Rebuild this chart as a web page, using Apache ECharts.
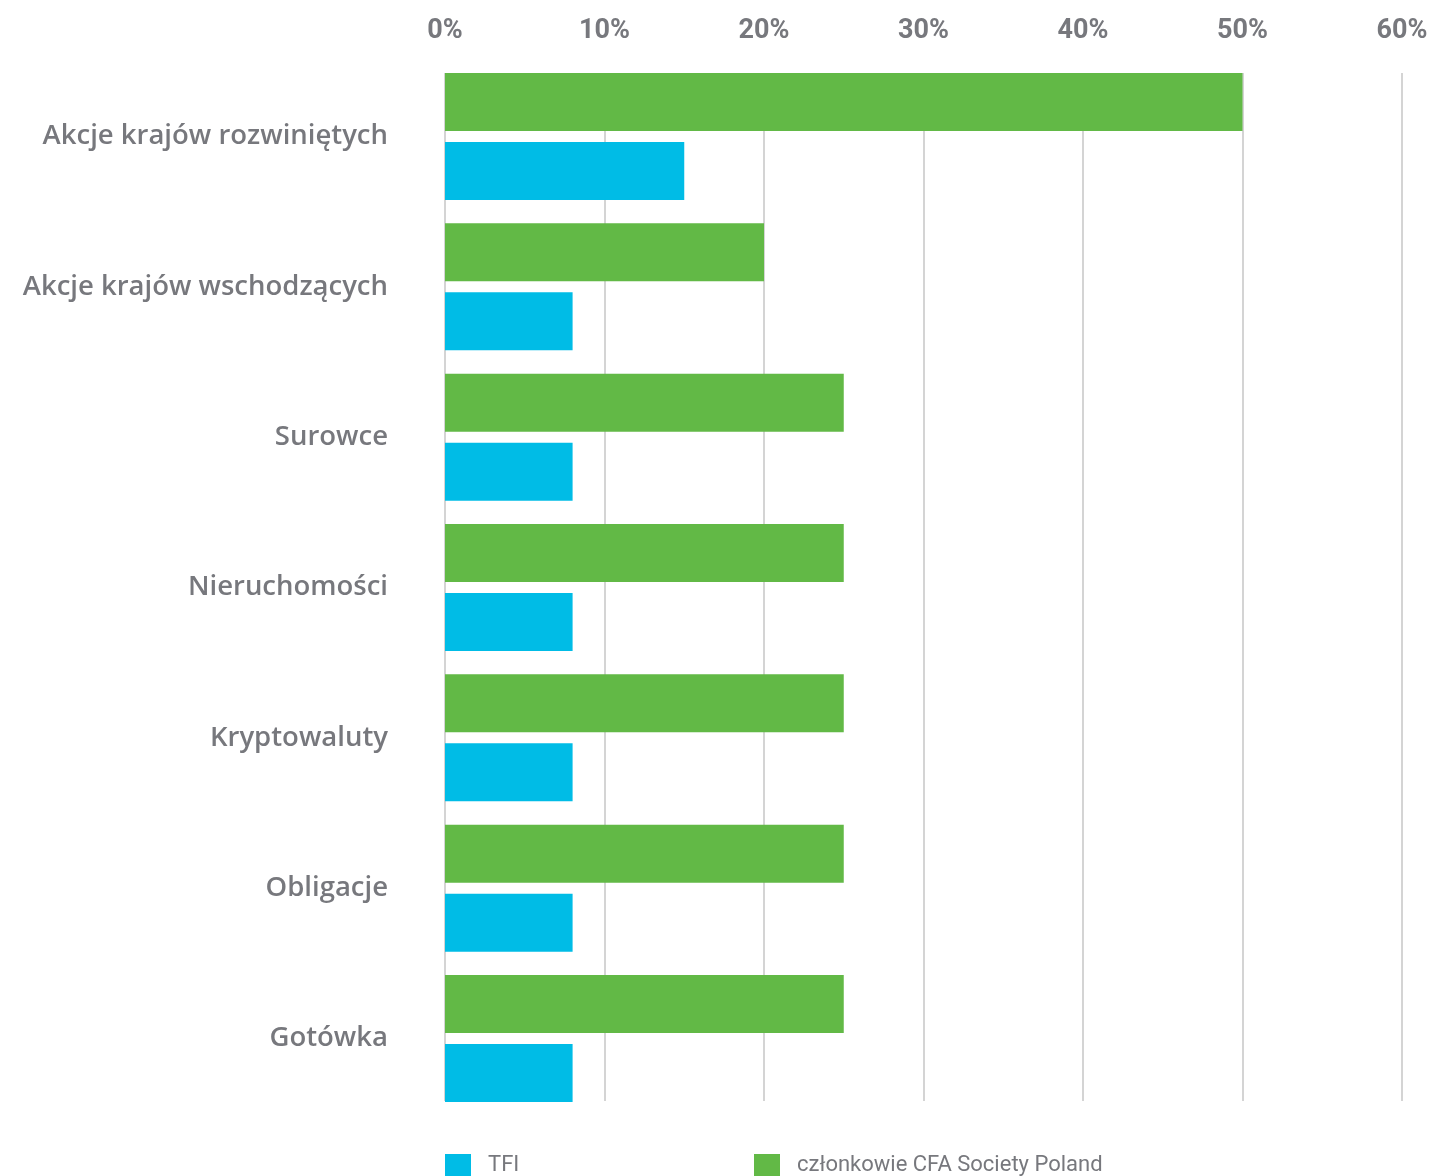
<!DOCTYPE html>
<html>
<head>
<meta charset="utf-8">
<script src="https://cdn.jsdelivr.net/npm/echarts@6/dist/echarts.min.js"></script>
<style>
  html, body { margin: 0; padding: 0; background: #fff; }
  #chart { width: 1434px; height: 1176px; }
</style>
</head>
<body>
<div id="chart"></div>
<script>
// kategorie od góry do dołu
const categories = [
  "Akcje krajów rozwiniętych",
  "Akcje krajów wschodzących",
  "Surowce",
  "Nieruchomości",
  "Kryptowaluty",
  "Obligacje",
  "Gotówka"
];
const seriesNames = ["TFI", "członkowie CFA Society Poland"];
const tfiValues = [15, 8, 8, 8, 8, 8, 8];
const cfaValues = [50, 20, 25, 25, 25, 25, 25];
const xTicks = { min: 0, max: 60, interval: 10 };

const gray = "#77787d";
const chart = echarts.init(document.getElementById("chart"));

const option = {
  animation: false,
  textStyle: { fontFamily: "Roboto" },
  grid: [
    // siatka z słupkami
    { left: 445, right: 32, top: 61.3, height: 1052.4 },
    // tylko pionowe linie siatki (krótsze niż pasy kategorii)
    { left: 445, right: 32, top: 73, height: 1028 }
  ],
  legend: [
    {
      data: [seriesNames[0]],
      left: 445, top: 1154, padding: 0,
      itemWidth: 26, itemHeight: 22,
      icon: "rect",
      textStyle: { color: gray, fontSize: 22, padding: [0, 0, 0, 12] }
    },
    {
      data: [seriesNames[1]],
      left: 754, top: 1154, padding: 0,
      itemWidth: 26, itemHeight: 22,
      icon: "rect",
      textStyle: { color: gray, fontSize: 22, padding: [0, 0, 0, 12] }
    }
  ],
  xAxis: [
    {
      type: "value",
      gridIndex: 0,
      position: "top",
      min: xTicks.min, max: xTicks.max, interval: xTicks.interval,
      axisLine: { show: false },
      axisTick: { show: false },
      splitLine: { show: false },
      axisLabel: {
        formatter: "{value}%",
        color: gray,
        fontSize: 27,
        fontWeight: "bold",
        margin: 17
      }
    },
    {
      type: "value",
      gridIndex: 1,
      min: xTicks.min, max: xTicks.max, interval: xTicks.interval,
      axisLine: { show: false },
      axisTick: { show: false },
      axisLabel: { show: false },
      splitLine: { show: true, lineStyle: { color: "#c6c6c6", width: 1.5 } }
    }
  ],
  yAxis: [
    {
      type: "category",
      gridIndex: 0,
      inverse: true,
      data: categories,
      axisLine: { show: false },
      axisTick: { show: false },
      axisLabel: {
        color: gray,
        fontFamily: "Open Sans",
        fontSize: 27.5,
        fontWeight: 600,
        margin: 57
      }
    },
    {
      type: "value",
      gridIndex: 1,
      show: false
    }
  ],
  series: [
    {
      name: seriesNames[1],
      type: "bar",
      data: cfaValues,
      barWidth: 58,
      barGap: "19%",
      itemStyle: { color: "#62b946" }
    },
    {
      name: seriesNames[0],
      type: "bar",
      data: tfiValues,
      barWidth: 58,
      barGap: "19%",
      itemStyle: { color: "#00bce6" }
    }
  ]
};
chart.setOption(option);
</script>
</body>
</html>
